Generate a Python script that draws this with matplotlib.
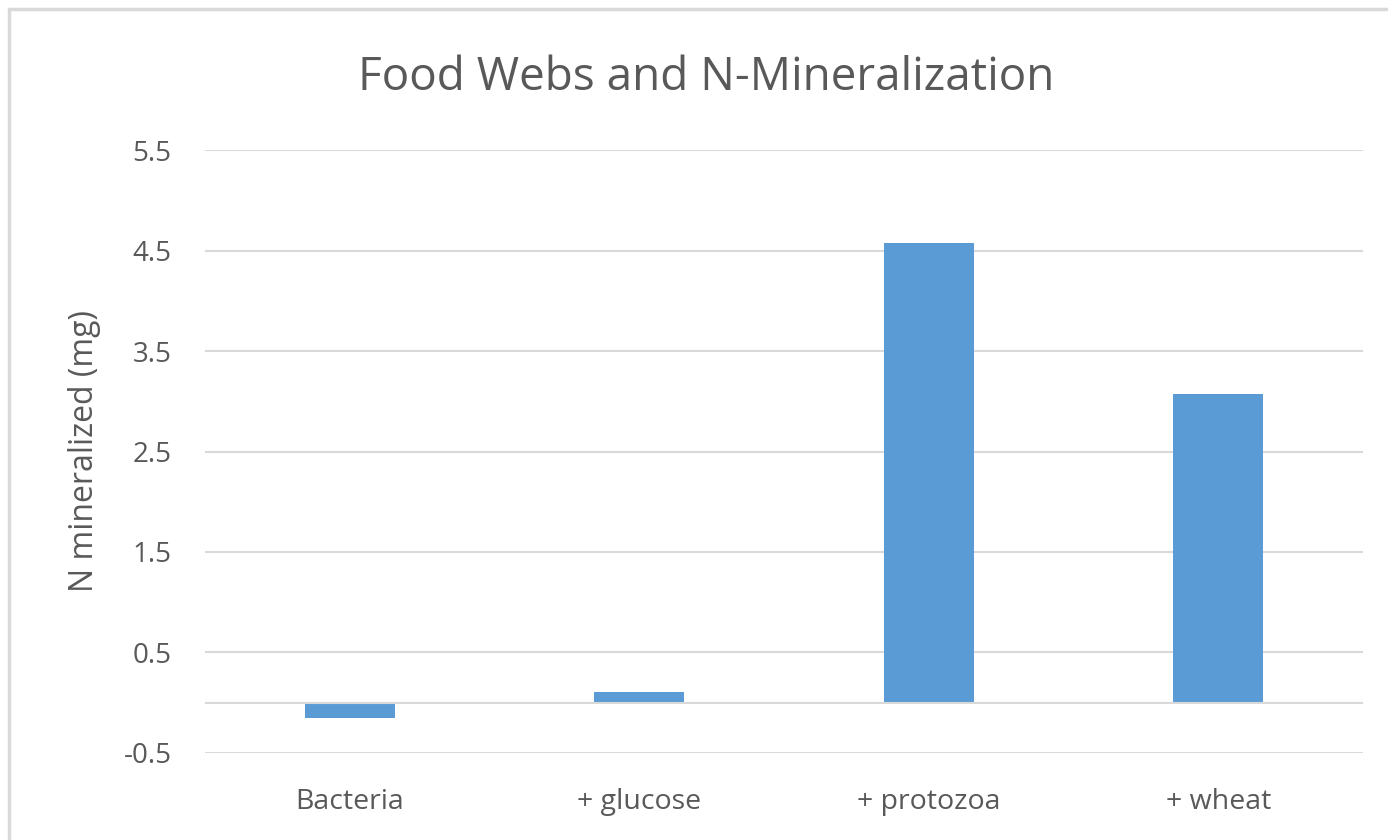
import matplotlib.pyplot as plt
from matplotlib.patches import Rectangle

# data
categories = ['Bacteria', '+ glucose', '+ protozoa', '+ wheat']
n_mineralized = [-0.15, 0.11, 4.57, 3.07]
yticks = [-0.5, 0.5, 1.5, 2.5, 3.5, 4.5, 5.5]

bar_color = '#5b9bd5'
grid_color = '#d9d9d9'
text_color = '#595959'

plt.rcParams['font.family'] = ['Open Sans', 'DejaVu Sans']

fig = plt.figure(figsize=(13.88, 8.4), dpi=100)
ax = fig.add_axes([0.1477, 0.1036, 0.8343, 0.7178])

x = list(range(len(categories)))
ax.bar(x, n_mineralized, width=0.31, color=bar_color, zorder=3)

ax.set_xlim(-0.5, len(categories) - 0.5)
ax.set_ylim(-0.5, 5.5)
ax.set_yticks(yticks)
ax.set_yticklabels([str(t) for t in yticks], fontsize=20, color=text_color)
ax.set_xticks(x)
ax.set_xticklabels(categories, fontsize=20.5, color=text_color)
ax.tick_params(axis='both', length=0)
ax.tick_params(axis='y', pad=24)
ax.tick_params(axis='x', pad=25)

# gridlines + zero axis line
for t in yticks:
    ax.axhline(t, color=grid_color, linewidth=1.5, zorder=1)
ax.axhline(0, color=grid_color, linewidth=1.5, zorder=4)

for s in ax.spines.values():
    s.set_visible(False)

ax.set_ylabel('N mineralized (mg)', fontsize=23, color=text_color, labelpad=16)
fig.text(0.5085, 0.907, 'Food Webs and N-Mineralization', fontsize=33,
         color=text_color, ha='center', va='center')

# chart frame (top and left edges visible)
fig.patches.append(Rectangle((9 / 1388, -0.1), 1.2, (840 - 9) / 840 + 0.1,
                             transform=fig.transFigure, fill=False,
                             edgecolor=grid_color, linewidth=2.5))

plt.savefig('out.png', dpi=100)
